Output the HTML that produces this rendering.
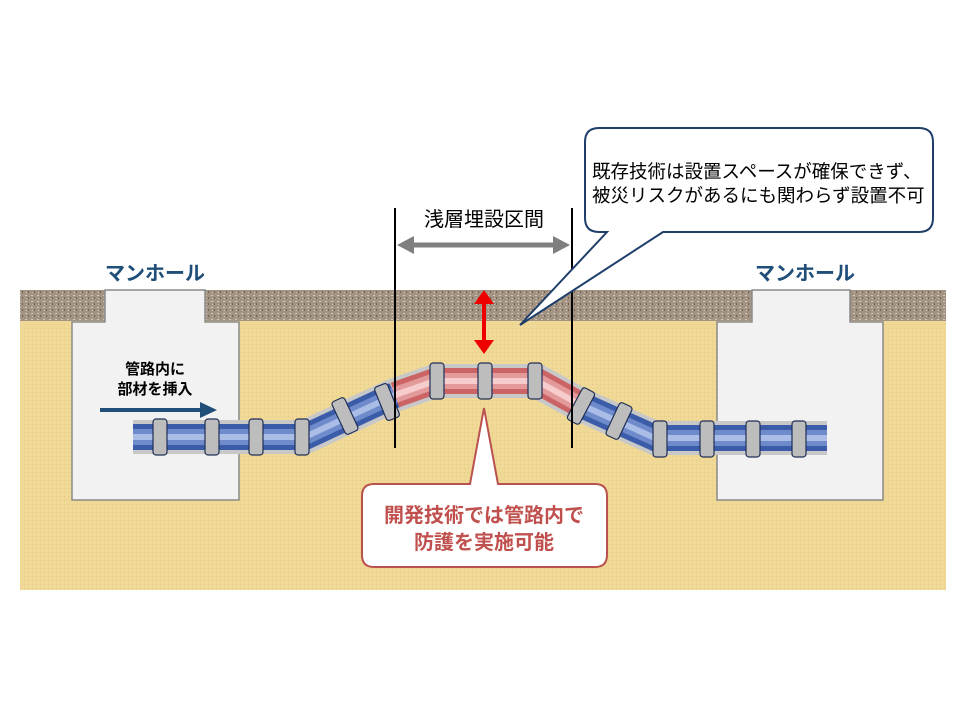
<!DOCTYPE html>
<html><head><meta charset="utf-8"><style>
html,body{margin:0;padding:0;background:#fff}
svg{display:block}
text{font-family:"Liberation Sans","Noto Sans CJK JP",sans-serif}
</style></head><body>
<svg width="960" height="720" viewBox="0 0 960 720" xmlns="http://www.w3.org/2000/svg">
<defs>
<pattern id="grav" width="6" height="6" patternUnits="userSpaceOnUse">
<rect width="6" height="6" fill="#a39383"/>
<rect x="1" y="1" width="2" height="1" fill="#d6cabb"/>
<rect x="4" y="3" width="1" height="2" fill="#6e6152"/>
<rect x="2" y="4" width="1" height="1" fill="#c8bcae"/>
</pattern>
<pattern id="soil" width="4" height="4" patternUnits="userSpaceOnUse">
<rect width="4" height="4" fill="#f0d996"/>
<rect x="0" y="0" width="1" height="1" fill="#e6c97c"/>
</pattern>
</defs>
<rect x="20" y="290" width="926" height="31" fill="url(#grav)"/>
<rect x="20" y="321" width="926" height="269" fill="url(#soil)"/>
<path d="M105 290 H205 V322 H239 V500 H72 V322 H105 Z" fill="#f2f2f2" stroke="#8a8a8a" stroke-width="1.5"/>
<path d="M752 290 H850 V322 H883 V500 H717 V322 H752 Z" fill="#f2f2f2" stroke="#8a8a8a" stroke-width="1.5"/>
<polyline points="133,437 305,437 395,395 435,381 537,381 577,403 655,438 827,438" fill="none" stroke="#c8c8c8" stroke-width="34"/>
<g fill="none" stroke-linejoin="miter">
<polyline points="133,437 305,437 395,395" stroke="#3b5ca8" stroke-width="26"/>
<polyline points="395,395 435,381 537,381 577,403" stroke="#cc6466" stroke-width="26"/>
<polyline points="577,403 655,438 827,438" stroke="#3b5ca8" stroke-width="26"/>
<polyline points="133,437 305,437 395,395" stroke="#6f8bcb" stroke-width="16"/>
<polyline points="395,395 435,381 537,381 577,403" stroke="#e39a9b" stroke-width="16"/>
<polyline points="577,403 655,438 827,438" stroke="#6f8bcb" stroke-width="16"/>
<polyline points="133,437 305,437 395,395" stroke="#a9bde6" stroke-width="6"/>
<polyline points="395,395 435,381 537,381 577,403" stroke="#f6cccc" stroke-width="6"/>
<polyline points="577,403 655,438 827,438" stroke="#a9bde6" stroke-width="6"/>
</g>
<g fill="#bdbdbd" stroke="#1f2f55" stroke-width="1.2">
<rect x="153" y="419" width="14" height="36" rx="3"/>
<rect x="205" y="419" width="14" height="36" rx="3"/>
<rect x="249" y="419" width="14" height="36" rx="3"/>
<rect x="295" y="419" width="14" height="36" rx="3"/>
<rect x="338" y="398" width="14" height="36" rx="3" transform="rotate(-25 345 416)"/>
<rect x="380" y="384" width="14" height="36" rx="3" transform="rotate(-22 387 402)"/>
<rect x="430" y="363" width="14" height="36" rx="3"/>
<rect x="478" y="363" width="14" height="36" rx="3"/>
<rect x="528" y="363" width="14" height="36" rx="3"/>
<rect x="574" y="388" width="14" height="36" rx="3" transform="rotate(28 581 406)"/>
<rect x="612" y="403" width="14" height="36" rx="3" transform="rotate(25 619 421)"/>
<rect x="653" y="421" width="14" height="36" rx="3"/>
<rect x="700" y="421" width="14" height="36" rx="3"/>
<rect x="746" y="421" width="14" height="36" rx="3"/>
<rect x="792" y="421" width="14" height="36" rx="3"/>
</g>
<line x1="395" y1="208" x2="395" y2="448" stroke="#000" stroke-width="2"/>
<line x1="572" y1="208" x2="572" y2="448" stroke="#000" stroke-width="2"/>
<line x1="410" y1="245" x2="557" y2="245" stroke="#7f7f7f" stroke-width="5"/>
<polygon points="397,245 414,236 414,254" fill="#7f7f7f"/>
<polygon points="570,245 553,236 553,254" fill="#7f7f7f"/>
<text x="484" y="226" font-size="20" text-anchor="middle" fill="#000">浅層埋設区間</text>
<line x1="484" y1="302" x2="484" y2="342" stroke="#e00" stroke-width="4"/>
<polygon points="484,290 474,304 494,304" fill="#e00"/>
<polygon points="484,354 474,340 494,340" fill="#e00"/>
<text x="155" y="280" font-size="20" font-weight="bold" fill="#1f4e79" text-anchor="middle">マンホール</text>
<text x="805" y="280" font-size="20" font-weight="bold" fill="#1f4e79" text-anchor="middle">マンホール</text>
<text x="155" y="374" font-size="15" font-weight="bold" text-anchor="middle">管路内に</text>
<text x="155" y="394" font-size="15" font-weight="bold" text-anchor="middle">部材を挿入</text>
<line x1="100" y1="410" x2="202" y2="410" stroke="#1f4e79" stroke-width="4"/>
<polygon points="217,410 200,402 200,418" fill="#1f4e79"/>
<path d="M599 128 H919 Q933 128 933 142 V218 Q933 232 919 232 H663 L520 325 L607 232 H599 Q585 232 585 218 V142 Q585 128 599 128 Z" fill="#fff" stroke="#1f3f6a" stroke-width="2"/>
<text x="592" y="178" font-size="18.5">既存技術は設置スペースが確保できず、</text>
<text x="592" y="202" font-size="18.5">被災リスクがあるにも関わらず設置不可</text>
<path d="M374 484 H470 L484 408 L498 484 H595 Q607 484 607 496 V555 Q607 567 595 567 H374 Q362 567 362 555 V496 Q362 484 374 484 Z" fill="#fff" stroke="#b9524e" stroke-width="2"/>
<text x="484" y="522" font-size="20" font-weight="bold" fill="#c0504d" text-anchor="middle">開発技術では管路内で</text>
<text x="484" y="549" font-size="20" font-weight="bold" fill="#c0504d" text-anchor="middle">防護を実施可能</text>
</svg>
</body></html>
